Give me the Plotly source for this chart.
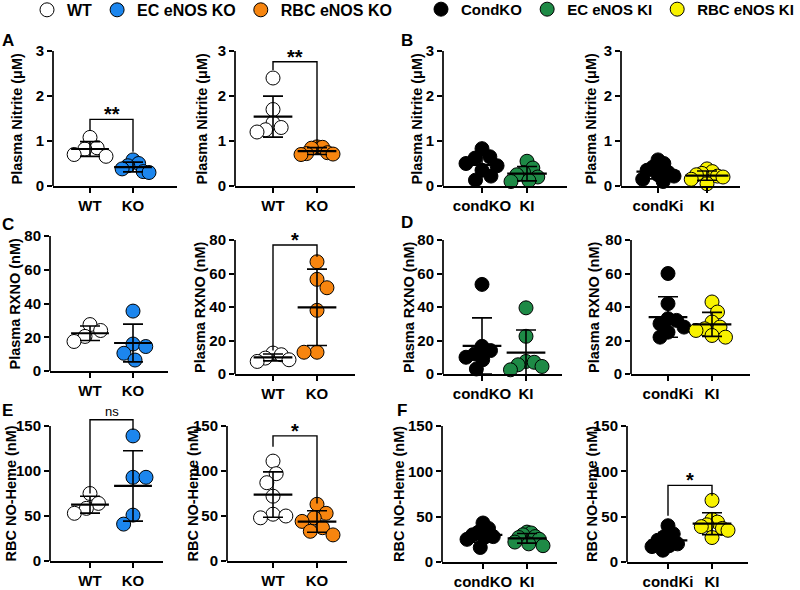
import plotly.graph_objects as go
import numpy as np

# ---------------- data ----------------
# Plasma nitrite (uM)
nitrite_wt_ec = [1.08, 0.85, 0.82, 0.70, 0.66]
nitrite_ec_ko = [0.58, 0.50, 0.45, 0.38, 0.32, 0.30]
nitrite_wt_rbc = [2.40, 1.70, 1.40, 1.30, 1.25, 1.20]
nitrite_rbc_ko = [0.87, 0.86, 0.84, 0.74, 0.72, 0.71, 0.70]
nitrite_condko = [0.83, 0.65, 0.62, 0.50, 0.45, 0.35, 0.22, 0.13]
nitrite_ec_ki = [0.55, 0.40, 0.30, 0.25, 0.20, 0.12, 0.10]
nitrite_condki = [0.58, 0.50, 0.42, 0.35, 0.30, 0.25, 0.22, 0.15, 0.10]
nitrite_rbc_ki = [0.38, 0.32, 0.28, 0.25, 0.22, 0.20, 0.15, 0.05]
# Plasma RXNO (nM)
rxno_wt_ec = [27.5, 24.0, 20.5, 17.5]
rxno_ec_ko = [35.5, 16.0, 14.5, 10.5, 6.5]
rxno_wt_rbc = [12.5, 11.5, 9.5, 8.5, 7.5]
rxno_rbc_ko = [67.0, 56.5, 51.5, 38.0, 13.0, 13.0]
rxno_condko = [53.5, 16.5, 14.0, 12.0, 10.0, 8.5, 3.0]
rxno_ec_ki = [39.5, 22.5, 7.5, 7.0, 5.5, 4.5, 2.5]
rxno_condki = [60, 42, 33, 32, 30, 28, 25, 22]
rxno_rbc_ki = [43, 37, 31, 28, 27, 26, 23, 22]
# RBC NO-Heme (nM)
noheme_wt_ec = [75, 64, 58.5, 53]
noheme_ec_ko = [139, 93, 93, 51, 41]
noheme_wt_rbc = [111, 97, 87, 72, 52, 50, 48]
noheme_rbc_ko = [63, 53, 48, 44, 37, 33, 29]
noheme_condko = [43, 37, 33, 30, 28, 27, 25, 16]
noheme_ec_ki = [33, 32, 30, 28, 27, 25, 22, 20, 18]
noheme_condki = [40, 31, 28, 24, 20, 18, 17, 13]
noheme_rbc_ki = [68, 47, 44, 41, 39, 37, 35, 27]

ticks_ko = ["WT", "KO"]
ticks_condko = ["condKO", "KI"]
ticks_condki = ["condKi", "KI"]
nitrite_ticks = [0, 1, 2, 3]
rxno_ticks = [0, 20, 40, 60, 80]
noheme_ticks = [0, 50, 100, 150]
label_nitrite = "Plasma Nitrite (μM)"
label_rxno = "Plasma RXNO (nM)"
label_noheme = "RBC NO-Heme (nM)"

# significance brackets: (y of bar, left leg end, right leg end, text)
sig_a1 = (1.48, 1.24, 0.76, "**")
sig_a2 = (2.76, 2.58, 0.94, "**")
sig_c2 = (77, 14, 70, "*")
sig_e1 = (157, 75, 145.5, "ns")
sig_e2 = (139, 127, 64, "*")
sig_f2 = (84.5, 51, 73, "*")

# ---------------- styles ----------------
FONT = "Liberation Sans, Arial, sans-serif"
C_WT, C_ECKO, C_RBCKO = "#FFFFFF", "#1C86EE", "#F7850F"
C_COND, C_ECKI, C_RBCKI = "#000000", "#1E8A46", "#F8F200"
G_WT = ("WT", C_WT, "legend")
G_ECKO = ("EC eNOS KO", C_ECKO, "legend")
G_RBCKO = ("RBC eNOS KO", C_RBCKO, "legend")
G_COND = ("CondKO", C_COND, "legend2")
G_ECKI = ("EC eNOS KI", C_ECKI, "legend2")
G_RBCKI = ("RBC eNOS KI", C_RBCKI, "legend2")

W, H = 800, 590
EXT = 1.25
SWARM_D = 13.0      # px spacing used by the swarm layout
SWARM_MAX = 16.0    # px, max half-spread of a swarm
# geometry in pixels: yaxis x, x end, cat0 x, cat1 x, y of zero, y of top tick, ylabel x
panels = [
    dict(g=[(nitrite_wt_ec, G_WT), (nitrite_ec_ko, G_ECKO)], tt=ticks_ko, tv=nitrite_ticks, lab=label_nitrite, sig=sig_a1, geo=(53, 177, 90, 133, 186, 51, 16)),
    dict(g=[(nitrite_wt_rbc, G_WT), (nitrite_rbc_ko, G_RBCKO)], tt=ticks_ko, tv=nitrite_ticks, lab=label_nitrite, sig=sig_a2, geo=(235, 355, 273, 317, 186, 51, 201)),
    dict(g=[(nitrite_condko, G_COND), (nitrite_ec_ki, G_ECKI)], tt=ticks_condko, tv=nitrite_ticks, lab=label_nitrite, sig=None, geo=(443, 567, 482, 527, 186, 51, 416)),
    dict(g=[(nitrite_condki, G_COND), (nitrite_rbc_ki, G_RBCKI)], tt=ticks_condki, tv=nitrite_ticks, lab=label_nitrite, sig=None, geo=(621, 740, 658, 707, 186, 51, 590)),
    dict(g=[(rxno_wt_ec, G_WT), (rxno_ec_ko, G_ECKO)], tt=ticks_ko, tv=rxno_ticks, lab=label_rxno, sig=None, geo=(50, 168, 90, 133, 371, 236, 14)),
    dict(g=[(rxno_wt_rbc, G_WT), (rxno_rbc_ko, G_RBCKO)], tt=ticks_ko, tv=rxno_ticks, lab=label_rxno, sig=sig_c2, geo=(235, 355, 273, 317, 374, 240, 200)),
    dict(g=[(rxno_condko, G_COND), (rxno_ec_ki, G_ECKI)], tt=ticks_condko, tv=rxno_ticks, lab=label_rxno, sig=None, geo=(443, 562, 482, 526, 374, 240, 409)),
    dict(g=[(rxno_condki, G_COND), (rxno_rbc_ki, G_RBCKI)], tt=ticks_condki, tv=rxno_ticks, lab=label_rxno, sig=None, geo=(631, 750, 668, 712, 374, 240, 594)),
    dict(g=[(noheme_wt_ec, G_WT), (noheme_ec_ko, G_ECKO)], tt=ticks_ko, tv=noheme_ticks, lab=label_noheme, sig=sig_e1, geo=(50, 163, 90, 133, 561, 426, 10)),
    dict(g=[(noheme_wt_rbc, G_WT), (noheme_rbc_ko, G_RBCKO)], tt=ticks_ko, tv=noheme_ticks, lab=label_noheme, sig=sig_e2, geo=(227, 347, 273, 317, 561, 426, 192)),
    dict(g=[(noheme_condko, G_COND), (noheme_ec_ki, G_ECKI)], tt=ticks_condko, tv=noheme_ticks, lab=label_noheme, sig=None, geo=(442, 557, 483, 527, 562, 426, 399)),
    dict(g=[(noheme_condki, G_COND), (noheme_rbc_ki, G_RBCKI)], tt=ticks_condki, tv=noheme_ticks, lab=label_noheme, sig=sig_f2, geo=(627, 748, 668, 712, 562, 426, 592)),
]
letters = [("A", 0, 40), ("B", 399, 40), ("C", 0, 224), ("D", 399, 222), ("E", 0, 410), ("F", 395, 410)]


def swarm(values, py, diam, maxhalf):
    """beeswarm: horizontal pixel offsets avoiding overlap, compressed to maxhalf"""
    order = sorted(range(len(values)), key=lambda i: -values[i])
    placed, offs = [], [0.0] * len(values)
    flip = 1
    for i in order:
        y = values[i] * py
        cands = [0.0]
        for (px, pyy) in placed:
            dy = abs(pyy - y)
            if dy < diam:
                dx = (diam ** 2 - dy ** 2) ** 0.5
                cands += [px + dx, px - dx]
        cands.sort(key=lambda c: (round(abs(c), 3), -flip * np.sign(c)))
        for c in cands:
            if all((c - px) ** 2 + (y - pyy) ** 2 >= diam ** 2 - 1e-6 for px, pyy in placed):
                offs[i] = c
                break
        if offs[i] != 0:
            flip = -flip
        placed.append((offs[i], y))
    m = max(abs(o) for o in offs)
    if m > maxhalf:
        offs = [o * maxhalf / m for o in offs]
    return offs


layout = dict(width=W, height=H, margin=dict(l=0, r=0, t=0, b=0, autoexpand=False),
              plot_bgcolor="white", paper_bgcolor="white",
              font=dict(family=FONT, color="black"), showlegend=True)
shapes, annots, traces = [], [], []
seen = set()
for k, p in enumerate(panels):
    n = k + 1
    xs = "x" if n == 1 else f"x{n}"
    ys = "y" if n == 1 else f"y{n}"
    ax, xe, c0, c1, y0, yt, lx = p["geo"]
    top = p["tv"][-1]
    sx = c1 - c0
    py = (y0 - yt) / top
    xr = [(ax - c0) / sx, (xe - c0) / sx]
    ytop_px = y0 - (y0 - yt) * EXT
    layout[f"xaxis{n}" if n > 1 else "xaxis"] = dict(
        domain=[ax / W, xe / W], range=xr, anchor=ys, showgrid=False, zeroline=False,
        showline=True, linecolor="black", linewidth=1.7, ticks="outside", ticklen=5,
        tickwidth=1.5, tickcolor="black", tickvals=[0, 1], ticktext=p["tt"],
        ticklabelstandoff=0, automargin=False,
        tickfont=dict(size=15, family=FONT, weight="bold", color="black"), fixedrange=True)
    layout[f"yaxis{n}" if n > 1 else "yaxis"] = dict(
        domain=[1 - y0 / H, 1 - ytop_px / H], range=[0, top * EXT], anchor=xs,
        showgrid=False, zeroline=False, showline=False, ticks="outside", ticklen=5,
        tickwidth=1.5, tickcolor="black", tickvals=p["tv"], ticktext=[str(v) for v in p["tv"]],
        automargin=False,
        tickfont=dict(size=15, family=FONT, weight="bold", color="black"), fixedrange=True)
    shapes.append(dict(type="line", xref=f"{xs} domain", yref=f"{ys} domain", x0=0, x1=0,
                       y0=0, y1=1 / EXT, line=dict(color="black", width=1.7)))
    annots.append(dict(text=p["lab"], textangle=-90, xref="paper", yref="paper",
                       x=lx / W, y=1 - (y0 + yt) / 2 / H, xanchor="center", yanchor="middle",
                       showarrow=False, font=dict(size=14.5, family=FONT, weight="bold")))
    for ci, (vals, (name, col, lg)) in enumerate(p["g"]):
        offs = swarm(vals, py, SWARM_D, SWARM_MAX)
        show = name not in seen
        seen.add(name)
        traces.append(go.Scatter(
            x=[ci + o / sx for o in offs], y=vals, xaxis=xs, yaxis=ys, mode="markers",
            name=name, legend=lg, showlegend=show, cliponaxis=False,
            marker=dict(size=14, color=col, line=dict(color="black", width=1))))
    for ci, (vals, g) in enumerate(p["g"]):
        m = float(np.mean(vals))
        sd = float(np.std(vals, ddof=1))
        traces.append(go.Scatter(
            x=[ci - 0.44, ci + 0.44], y=[m, m], xaxis=xs, yaxis=ys, mode="lines",
            showlegend=False, line=dict(color="black", width=2.2), hoverinfo="skip"))
        traces.append(go.Scatter(
            x=[ci], y=[m], xaxis=xs, yaxis=ys, mode="markers", showlegend=False,
            marker=dict(size=1, color="rgba(0,0,0,0)"), cliponaxis=False,
            error_y=dict(type="data", array=[sd], symmetric=True, color="black",
                         thickness=1.6, width=10)))
    if p["sig"]:
        yb, yl, yr, txt = p["sig"]
        traces.append(go.Scatter(
            x=[0, 0, 1, 1], y=[yl, yb, yb, yr], xaxis=xs, yaxis=ys, mode="lines",
            showlegend=False, line=dict(color="black", width=1.4), hoverinfo="skip"))
        if txt == "ns":
            annots.append(dict(text=txt, x=0.5, y=yb, xref=xs, yref=ys, showarrow=False,
                               xanchor="center", yanchor="bottom", yshift=-1,
                               font=dict(size=13, family=FONT)))
        else:
            annots.append(dict(text=txt, x=0.5, y=yb, xref=xs, yref=ys, showarrow=False,
                               xanchor="center", yanchor="bottom", yshift=-8,
                               font=dict(size=20, family=FONT, weight="bold")))

for L, lx, ly in letters:
    annots.append(dict(text=L, x=lx / W, y=1 - ly / H, xref="paper", yref="paper",
                       xanchor="left", yanchor="middle", showarrow=False,
                       font=dict(size=17, family=FONT, weight="bold")))

layout["shapes"] = shapes
layout["annotations"] = annots
layout["legend"] = dict(orientation="h", x=27 / W, y=1.012, xanchor="left", yanchor="top",
                        font=dict(size=16, family=FONT, weight="bold", color="black"),
                        itemsizing="trace", bgcolor="rgba(0,0,0,0)", itemclick=False)
layout["legend2"] = dict(orientation="h", x=421 / W, y=1.012, xanchor="left", yanchor="top",
                         font=dict(size=15, family=FONT, weight="bold", color="black"),
                         itemsizing="trace", bgcolor="rgba(0,0,0,0)", itemclick=False)

fig = go.Figure(data=traces, layout=layout)
fig.write_html("out.html", config={"displayModeBar": False},
               post_script="document.body.style.margin='0px';")
